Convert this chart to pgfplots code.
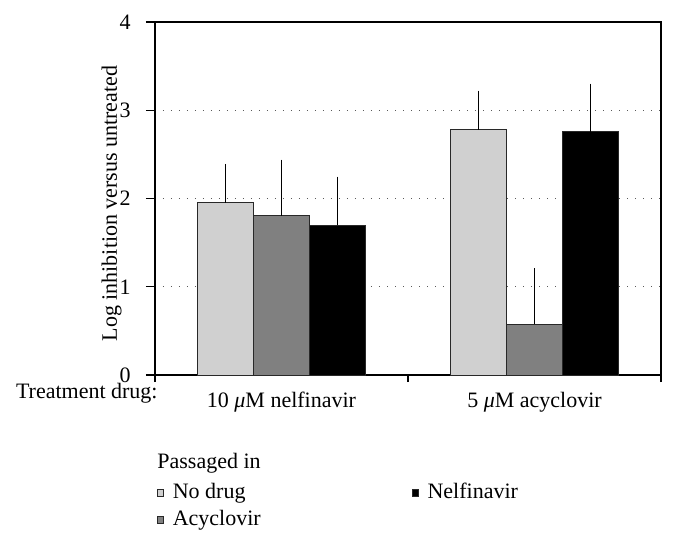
\documentclass[border=0pt]{standalone}
\usepackage{fontspec}
\setmainfont{Liberation Serif}
\usepackage{pgfplots}
\usepackage{pgfplotstable}
\pgfplotsset{compat=1.18}
\definecolor{lightbar}{RGB}{208,208,208}
\definecolor{midbar}{RGB}{128,128,128}
\definecolor{edge}{RGB}{40,40,40}
\pgfplotstableread{
x nd nde ac ace nf nfe
0 1.953 0.418 1.802 0.615 1.697 0.527
1 2.782 0.419 0.573 0.615 2.756 0.524
}\data
\begin{document}
\fontsize{11}{13.2}\selectfont
\begin{tikzpicture}
\path[use as bounding box] (-77.5pt,-84pt) rectangle (260pt,187.5pt);
\begin{axis}[
  yticklabel style={anchor=east, inner sep=0pt, xshift=-7.5pt, /pgf/number format/assume math mode=true},
  xticklabel style={anchor=base, inner sep=0pt, yshift=-11.5pt},
  at={(0pt,0pt)}, anchor=south west,
  scale only axis, width=253pt, height=176.5pt,
  xmin=-0.5, xmax=1.5, ymin=0, ymax=4,
  ybar=0pt, bar width=28.1pt,
  xtick={0,1},
  xticklabels={10 \textit{μ}M nelfinavir, 5 \textit{μ}M acyclovir},
  minor xtick={-0.5,0.5,1.5},
  ytick={0,1,2,3,4},
  xtick pos=left, ytick pos=left,
  tick align=outside,
  major tick length=4.5pt, minor tick length=3.5pt,
  major x tick style={draw=none},
  minor x tick style={draw=black, line width=0.6pt},
  ytick style={draw=black, line width=0.6pt},
  axis line style={line width=0.6pt},
  ymajorgrids,
  grid style={black!65, line width=0.5pt, dash pattern=on 0.6pt off 3.4pt},
  ylabel={Log inhibition versus untreated},
  ylabel style={at={(axis description cs:-0.0857,0.486)}, anchor=center},
  error bars/y dir=plus,
  error bars/y explicit,
  error bars/error mark=-,
  error bars/error mark options={black, mark size=1pt, line width=0.6pt},
  error bars/error bar style={black, line width=0.6pt},
  legend columns=2, transpose legend,
  legend cell align=left,
  legend image code/.code={\draw[#1, draw=edge, line width=0.4pt] (0pt,0.9pt) rectangle (3.2pt,4.2pt);},
  legend style={at={(0,0)}, anchor=north west, xshift=1pt, yshift=-53pt,
    draw=none, fill=none, inner sep=0pt, outer sep=0pt, row sep=2pt,
    nodes={inner sep=0.5pt, text height=8pt, text depth=2.5pt, anchor=base west},
    /tikz/every odd column/.append style={column sep=3.8pt},
    /tikz/every even column/.append style={column sep=75pt}},
]
\addplot[fill=lightbar, draw=edge, line width=0.5pt] table[x=x, y=nd, y error=nde]{\data};
\addlegendentry{No drug}
\addplot[fill=midbar, draw=edge, line width=0.5pt] table[x=x, y=ac, y error=ace]{\data};
\addlegendentry{Acyclovir}
\addplot[fill=black, draw=edge, line width=0.5pt] table[x=x, y=nf, y error=nfe]{\data};
\addlegendentry{Nelfinavir}
\end{axis}
\node[anchor=base east, inner sep=0pt] at (1.5pt,-11.5pt) {Treatment drug:};
\node[anchor=base west, inner sep=0pt] at (1pt,-46.5pt) {Passaged in};
\end{tikzpicture}
\end{document}
